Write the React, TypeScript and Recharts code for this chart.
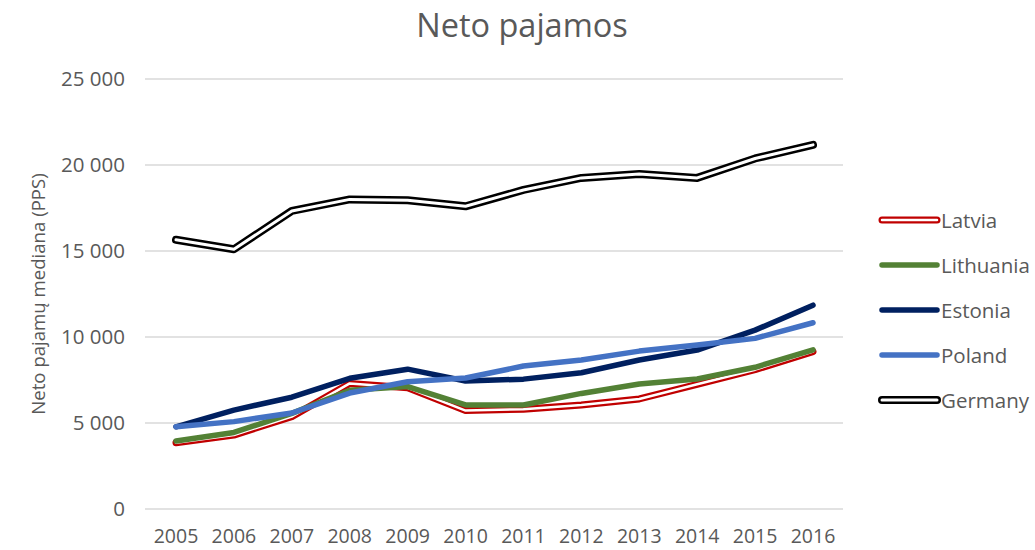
import React from "react";
import {
    LineChart,
    Line,
    XAxis,
    YAxis,
    CartesianGrid,
} from "recharts";

const years = ["2005", "2006", "2007", "2008", "2009", "2010", "2011", "2012", "2013", "2014", "2015", "2016"];
const latvia = [3850, 4300, 5370, 7300, 7050, 5720, 5800, 6050, 6400, 7250, 8100, 9150];
const lithuania = [3950, 4450, 5560, 6900, 7120, 6050, 6050, 6720, 7270, 7560, 8240, 9250];
const estonia = [4780, 5750, 6500, 7600, 8130, 7440, 7550, 7920, 8660, 9240, 10400, 11850];
const poland = [4780, 5080, 5580, 6740, 7400, 7620, 8310, 8660, 9180, 9530, 9920, 10830];
const germany = [15650, 15100, 17330, 18000, 17950, 17600, 18550, 19250, 19470, 19250, 20380, 21170];
const yTicks = [0, 5000, 10000, 15000, 20000, 25000];

const FONT = "'Open Sans', sans-serif";
const TEXT = "#595959";

// one row per year for recharts
const rows = years.map((y, i) => ({
    year: y,
    Latvia: latvia[i],
    Lithuania: lithuania[i],
    Estonia: estonia[i],
    Poland: poland[i],
    Germany: germany[i],
}));

// double = coloured outline with a white core
const series = [
    { name: "Latvia", color: "#C00000", double: true, outer: 7, inner: 2.5 },
    { name: "Lithuania", color: "#538135", double: false, outer: 5.5, inner: 0 },
    { name: "Estonia", color: "#002060", double: false, outer: 5.5, inner: 0 },
    { name: "Poland", color: "#4472C4", double: false, outer: 5.5, inner: 0 },
    { name: "Germany", color: "#000000", double: true, outer: 8, inner: 3 },
];

function fmt(v: number) {
    if (v === 0) return "0";
    const s = String(v);
    return s.slice(0, s.length - 3) + " " + s.slice(-3);
}

function MyLegend() {
    return (
        <div
            style={{
                position: "absolute",
                left: 874,
                top: 197,
                fontFamily: FONT,
                fontSize: 20.5,
                color: TEXT,
            }}
        >
            {series.map((it) => (
                <div key={it.name} style={{ display: "flex", alignItems: "center", height: 45 }}>
                    <svg width={67} height={14}>
                        <line x1={8} y1={7} x2={63} y2={7} stroke={it.color} strokeWidth={it.outer} strokeLinecap="round" />
                        {it.double && (
                            <line x1={8} y1={7} x2={63} y2={7} stroke="#fff" strokeWidth={it.inner} strokeLinecap="round" />
                        )}
                    </svg>
                    <span>{it.name}</span>
                </div>
            ))}
        </div>
    );
}

export default function App() {
    const lines: React.ReactNode[] = [];
    series.forEach((it) => {
        lines.push(
            <Line
                key={it.name}
                dataKey={it.name}
                type="linear"
                stroke={it.color}
                strokeWidth={it.outer}
                strokeLinecap="round"
                strokeLinejoin="round"
                dot={false}
                activeDot={false}
                isAnimationActive={false}
            />
        );
        if (it.double) {
            lines.push(
                <Line
                    key={it.name + "-core"}
                    dataKey={it.name}
                    type="linear"
                    stroke="#ffffff"
                    strokeWidth={it.inner}
                    strokeLinecap="round"
                    strokeLinejoin="round"
                    dot={false}
                    activeDot={false}
                    isAnimationActive={false}
                />
            );
        }
    });

    return (
        <div style={{ position: "absolute", left: 0, top: 0, width: 1035, height: 550, background: "#fff" }}>
            <div
                style={{
                    position: "absolute",
                    left: 0,
                    width: 1044,
                    top: 2,
                    textAlign: "center",
                    fontFamily: FONT,
                    fontSize: 32.5,
                    color: TEXT,
                }}
            >
                Neto pajamos
            </div>
            <LineChart
                width={1035}
                height={550}
                data={rows}
                margin={{ top: 79, right: 192, bottom: 11, left: 0 }}
            >
                <CartesianGrid vertical={false} stroke="#d9d9d9" strokeWidth={1.5} />
                <XAxis
                    dataKey="year"
                    height={30}
                    axisLine={false}
                    tickLine={false}
                    tickMargin={14}
                    interval={0}
                    padding={{ left: 31, right: 30 }}
                    tick={{ fill: TEXT, fontSize: 19.5, fontFamily: FONT }}
                />
                <YAxis
                    width={145}
                    domain={[0, 25000]}
                    ticks={yTicks}
                    tickFormatter={fmt}
                    axisLine={false}
                    tickLine={false}
                    tickMargin={14}
                    tick={{ fill: TEXT, fontSize: 20.5, fontFamily: FONT }}
                    label={{
                        value: "Neto pajamų mediana (PPS)",
                        angle: -90,
                        position: "insideLeft",
                        offset: 38,
                        style: { textAnchor: "middle", fill: TEXT, fontSize: 18.6, fontFamily: FONT },
                    }}
                />
                {lines}
            </LineChart>
            <MyLegend />
        </div>
    );
}
